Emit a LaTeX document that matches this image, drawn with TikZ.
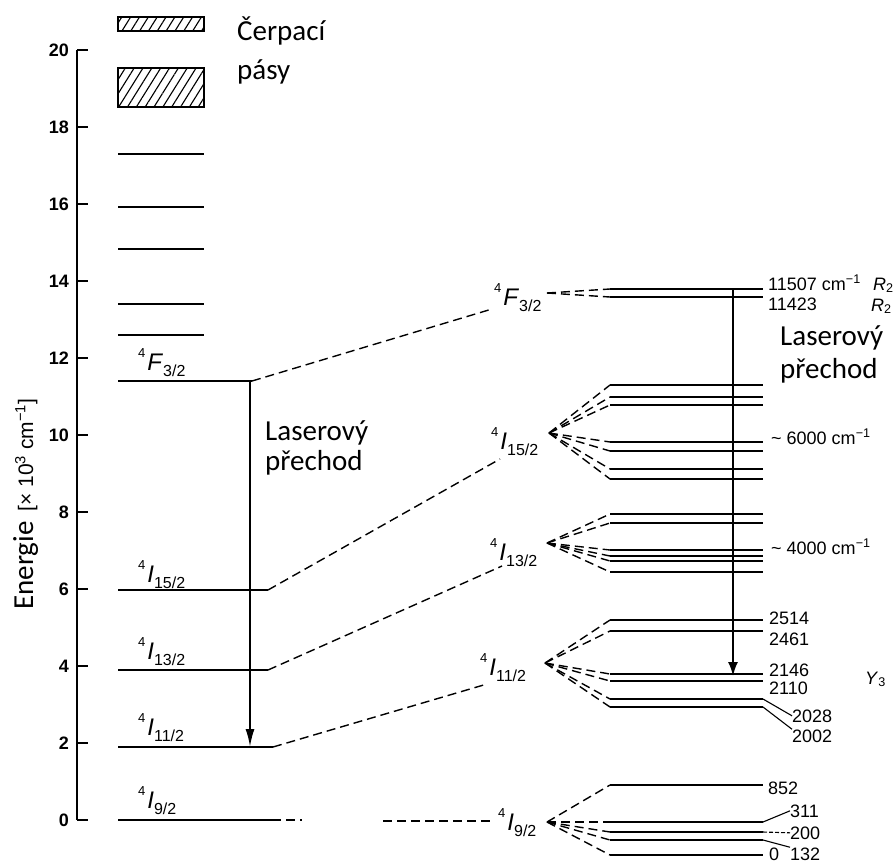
\documentclass[tikz,border=0pt]{standalone}
\usepackage{fontspec}
\setmainfont{Liberation Sans}
\newfontfamily\carl{Carlito}
\usetikzlibrary{arrows.meta,patterns.meta}
\newcommand{\termsym}[2]{\raisebox{0.51em}{\fontsize{13}{13}\selectfont 4}\hspace{2pt}\textit{#1}\raisebox{-0.28em}{\fontsize{16}{16}\selectfont #2}}
\tikzset{
  lvl/.style={line width=1.6pt},
  dsh/.style={line width=1.4pt,dash pattern=on 9pt off 5pt},
  arrL/.style={line width=2pt,-{Latex[length=18pt,width=9pt]}},
  arrR/.style={line width=2pt,-{Latex[length=14pt,width=10pt]}},
  num/.style={font=\fontsize{18}{18}\selectfont,inner sep=0pt,anchor=base west},
  big/.style={font=\carl\fontsize{29}{29}\selectfont,inner sep=0pt,anchor=base west},
  termL/.style={font=\fontsize{24}{24}\selectfont,inner sep=0pt,anchor=base west},
  tick/.style={font=\bfseries\fontsize{18}{18}\selectfont,inner sep=0pt,anchor=east},
  band/.style={line width=1.5pt,pattern={Lines[angle=58,distance=7.5pt,line width=1.1pt]}},
  ldr/.style={line width=1.1pt}
}
\begin{document}
\begin{tikzpicture}[x=1pt,y=-1pt]
\useasboundingbox (0,0) rectangle (896,863);
\fill[white] (0,0) rectangle (896,863);

% axis
\draw[line width=1.8pt] (77,50) coordinate (ax20) -- (77,820) coordinate (ax0);
\foreach \e in {0,2,...,20} {
  \pgfmathsetmacro\yy{820-38.5*\e}
  \draw[line width=1.6pt] (77,\yy) coordinate (t\e) -- (88,\yy) coordinate (te\e);
  \node[tick] (tl\e) at (69,\yy) {\e};
}
\node[rotate=90,anchor=base west,inner sep=0pt] (elab) at (33,610)
  {{\carl\fontsize{29}{29}\selectfont Energie}\hspace{10pt}{\fontsize{21}{21}\selectfont [× 10\textsuperscript{3} cm\textsuperscript{−1}]}};

% pump bands
\draw[band] (118,17) rectangle (204,31);
\draw[band] (118,68) rectangle (204,107);
\node[big] (cp1) at (237,40) {Čerpací};
\node[big] (cp2) at (237,79) {pásy};

% upper left levels
\foreach \y [count=\i] in {154,207,249,304,335}
  \draw[lvl] (118,\y) coordinate (u\i a) -- (204,\y) coordinate (u\i b);

% main left levels
\draw[lvl] (118,381) coordinate (F0) -- (252,381) coordinate (F1);
\draw[lvl] (118,590) coordinate (A0) -- (268,590) coordinate (A1);
\draw[lvl] (118,670) coordinate (B0) -- (268,670) coordinate (B1);
\draw[lvl] (118,747) coordinate (C0) -- (273,747) coordinate (C1);
\draw[lvl] (118,820) coordinate (D0) -- (272,820) coordinate (D1);
\coordinate (D2) at (302,820);
\draw[dsh] (D1) -- (D2);

\node[termL] (lF) at (138,370) {\termsym{F}{3/2}};
\node[termL] (lA) at (138,582) {\termsym{I}{15/2}};
\node[termL] (lB) at (138,659) {\termsym{I}{13/2}};
\node[termL] (lC) at (138,735) {\termsym{I}{11/2}};
\node[termL] (lD) at (138,808) {\termsym{I}{9/2}};

% left laser transition
\coordinate (la0) at (250,381);
\coordinate (la1) at (250,747);
\draw[arrL] (la0) -- (la1);
\node[big] (ll1) at (265,440) {Laserový};
\node[big] (ll2) at (265,470) {přechod};

% middle labels
\node[termL] (mF) at (494,305) {\termsym{F}{3/2}};
\node[termL] (mA) at (491,449) {\termsym{I}{15/2}};
\node[termL] (mB) at (490,560) {\termsym{I}{13/2}};
\node[termL] (mC) at (480,675) {\termsym{I}{11/2}};
\node[termL] (mD) at (498,830) {\termsym{I}{9/2}};

\coordinate (mFi) at (492,309);
\coordinate (mAi) at (500,459);
\coordinate (mBi) at (502,566);
\coordinate (mCi) at (487,684);
\coordinate (mDi) at (383,821);
\coordinate (mDe) at (494,821);
\draw[dsh] (F1) -- (mFi);
\draw[dsh] (A1) -- (mAi);
\draw[dsh] (B1) -- (mBi);
\draw[dsh] (C1) -- (mCi);
\draw[dsh] (mDi) -- (mDe);

\coordinate (vF) at (547,293);
\coordinate (vA) at (549,433);
\coordinate (vB) at (547,543);
\coordinate (vC) at (545,663);
\coordinate (vD) at (547,822);

% right levels and fans
\foreach \y [count=\i] in {289,297} {
  \draw[lvl] (610,\y) coordinate (rF\i a) -- (763,\y) coordinate (rF\i b);
  \draw[dsh] (vF) -- (rF\i a);
}
\foreach \y [count=\i] in {385,397,405,442,451,469,479} {
  \draw[lvl] (610,\y) coordinate (rA\i a) -- (763,\y) coordinate (rA\i b);
  \draw[dsh] (vA) -- (rA\i a);
}
\foreach \y [count=\i] in {514,523,550,556,561,572} {
  \draw[lvl] (610,\y) coordinate (rB\i a) -- (763,\y) coordinate (rB\i b);
  \draw[dsh] (vB) -- (rB\i a);
}
\foreach \y [count=\i] in {620,631,674,681,699,707} {
  \draw[lvl] (610,\y) coordinate (rC\i a) -- (763,\y) coordinate (rC\i b);
  \draw[dsh] (vC) -- (rC\i a);
}
\foreach \y [count=\i] in {785,822,832,840,855} {
  \draw[lvl] (610,\y) coordinate (rD\i a) -- (763,\y) coordinate (rD\i b);
  \draw[dsh] (vD) -- (rD\i a);
}

% right laser transition
\coordinate (ra0) at (733,289);
\coordinate (ra1) at (733,676);
\draw[arrR] (ra0) -- (ra1);
\node[big] (lr1) at (780,345) {Laserový};
\node[big] (lr2) at (780,378) {přechod};

% right labels
\node[num] (n11507) at (768,290) {11507 cm\textsuperscript{−1}};
\node[num] (nR1) at (873,290) {\textit{R}\textsubscript{2}};
\node[num] (n11423) at (768,310) {11423};
\node[num] (nR2) at (871,311) {\textit{R}\textsubscript{2}};
\node[num] (n6000) at (771,444) {\textasciitilde\ 6000 cm\textsuperscript{−1}};
\node[num] (n4000) at (771,554) {\textasciitilde\ 4000 cm\textsuperscript{−1}};
\node[num] (n2514) at (769,624) {2514};
\node[num] (n2461) at (769,645) {2461};
\node[num] (n2146) at (769,676) {2146};
\node[num] (n2110) at (769,694) {2110};
\node[num] (n2028) at (792,722) {2028};
\node[num] (n2002) at (792,742) {2002};
\node[num] (nY) at (865,684) {\textit{Y}\textsubscript{3}};
\node[num] (n852) at (768,794) {852};
\node[num] (n311) at (790,817) {311};
\node[num] (n200) at (790,839) {200};
\node[num] (n132) at (790,860) {132};
\node[num] (n0) at (769,860) {0};

% leaders
\draw[ldr] (rC5b) -- (n2028.west);
\draw[ldr] (rC6b) -- (n2002.north west);
\draw[ldr] (rD2b) -- (n311.west);
\draw[ldr,dash pattern=on 4pt off 2pt] (rD3b) -- (n200.west);
\draw[ldr] (rD4b) -- (n132.north west);
\end{tikzpicture}
\end{document}
